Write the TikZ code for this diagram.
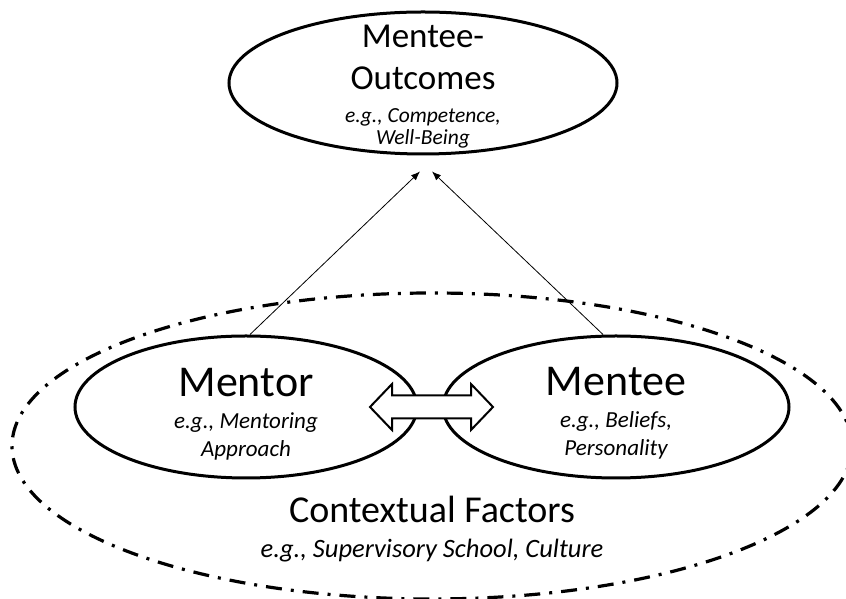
\documentclass[tikz,border=0pt]{standalone}
\usepackage{fontspec}
\setmainfont{Carlito}
\usetikzlibrary{shapes.geometric,arrows.meta}

% let \baselineskip alone decide the line distance
\newcommand\fixedlines{\lineskiplimit -100pt\relax}

\tikzset{
  blob/.style={draw, ellipse, line width=3pt, inner sep=0pt, minimum height=142pt},
  blobtext/.style={align=center, anchor=base,
    font={\fontsize{23}{28}\selectfont\itshape\fixedlines}},
  flow/.style={-{Latex[length=9pt,width=7pt]}, line width=0.8pt},
  twoway/.style={draw, fill=white, line width=2pt, line join=miter},
}

\begin{document}
\begin{tikzpicture}[x=1pt, y=1pt]
  \useasboundingbox (0,0) rectangle (846,599);

  % the setting around the pair
  \node[draw, ellipse, line width=3.2pt, inner sep=0pt,
    dash pattern=on 16pt off 9pt on 3pt off 9pt,
    minimum width=840pt, minimum height=306pt] (context) at (432,153) {};
  \node[blobtext, font={\fontsize{26.5}{35}\selectfont\itshape\fixedlines}]
    (contexttxt) at (432,41)
    {{\fontsize{38}{38}\selectfont\upshape Contextual Factors}\\
     \textit{e.g.,} Supervisory School, Culture};

  % the pair
  \node[blob, minimum width=342pt] (mentor) at (246,192) {};
  \node[blobtext] (mentortxt) at (246,142)
    {{\fontsize{44}{44}\selectfont\upshape Mentor}\\[4pt]
     \textit{e.g.,} Mentoring\\ Approach};
  \node[blob, minimum width=346pt] (mentee) at (616,192) {};
  \node[blobtext] (menteetxt) at (616,143)
    {{\fontsize{44}{44}\selectfont\upshape Mentee}\\[4pt]
     \textit{e.g.,} Beliefs,\\ Personality};

  % outcome on top
  \node[blob, minimum width=388pt, minimum height=142pt] (outcome) at (423,516) {};
  \node[blobtext, font={\fontsize{21.5}{22}\selectfont\itshape\fixedlines}]
    (outcometxt) at (423,454)
    {{\fontsize{35}{35}\selectfont\upshape Mentee-}\\[20pt]
     {\fontsize{35}{35}\selectfont\upshape Outcomes}\\[11pt]
     \textit{e.g.,} Competence,\\ Well-Being};

  % interaction between mentor and mentee
  \coordinate (link) at (431.5,192);
  \draw[twoway] ([xshift=-61.5pt]link) -- ++(22,23) -- ++(0,-11.5) -- ++(79,0)
    -- ++(0,11.5) -- ++(22,-23) -- ++(-22,-23) -- ++(0,11.5) -- ++(-79,0)
    -- ++(0,-11.5) -- cycle;

  \draw[flow] ([xshift=4pt]mentor.north) -- ([shift={(-3pt,-16pt)}]outcome.south);
  \draw[flow] ([xshift=-13pt]mentee.north) -- ([shift={(9pt,-16pt)}]outcome.south);
\end{tikzpicture}
\end{document}
